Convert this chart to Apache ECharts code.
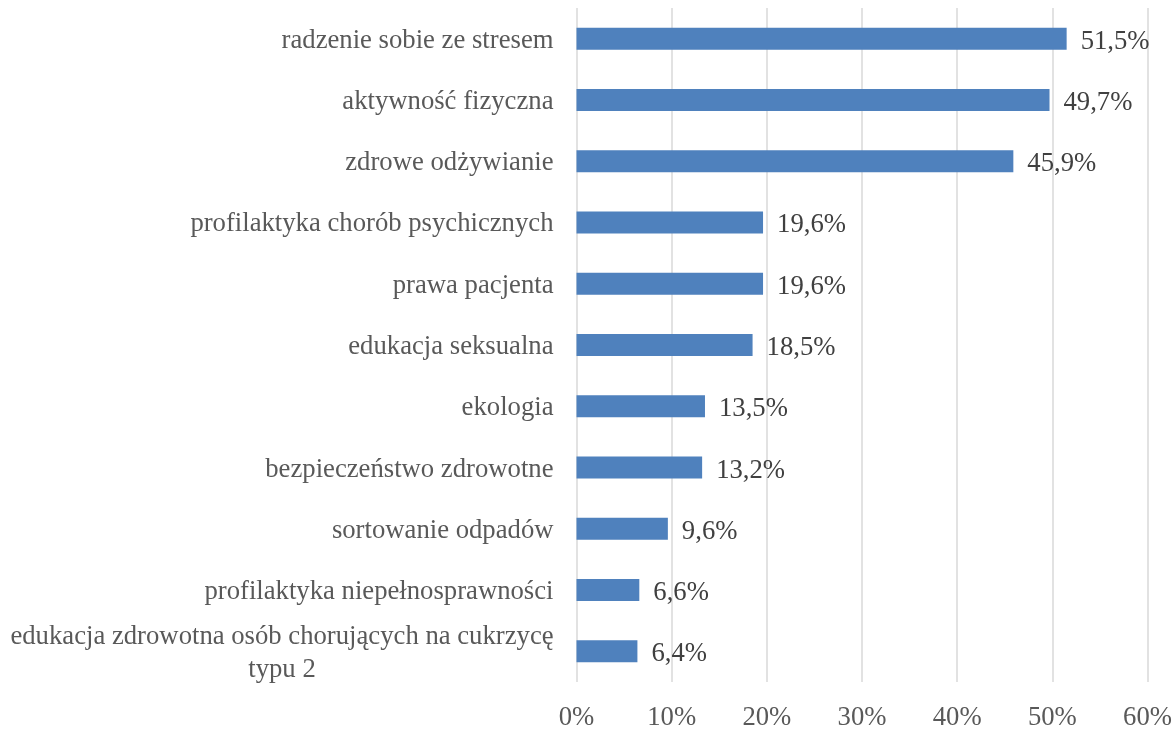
<!DOCTYPE html>
<html>
<head>
<meta charset="utf-8">
<script src="https://cdn.jsdelivr.net/npm/echarts@6/dist/echarts.min.js"></script>
<style>
  html, body { margin: 0; padding: 0; background: #fff; }
</style>
</head>
<body>
<div id="chartDom" style="width: 1175px; height: 731px;"></div>
<script>
const categories = [
  'radzenie sobie ze stresem',
  'aktywność fizyczna',
  'zdrowe odżywianie',
  'profilaktyka chorób psychicznych',
  'prawa pacjenta',
  'edukacja seksualna',
  'ekologia',
  'bezpieczeństwo zdrowotne',
  'sortowanie odpadów',
  'profilaktyka niepełnosprawności',
  'edukacja zdrowotna osób chorujących na cukrzycę\ntypu 2'
];
const percents = [51.5, 49.7, 45.9, 19.6, 19.6, 18.5, 13.5, 13.2, 9.6, 6.6, 6.4];
const tickValues = [0, 10, 20, 30, 40, 50, 60];

const fontFam = '"Liberation Serif", "Times New Roman", serif';
const fs = 26.7;
const myChart = echarts.init(document.getElementById('chartDom'));

const option = {
  animation: false,
  textStyle: { fontFamily: fontFam },
  grid: {
    left: 576.5,
    right: 26,
    top: 8,
    bottom: 48,
    containLabel: false
  },
  xAxis: {
    type: 'value',
    min: tickValues[0],
    max: tickValues[tickValues.length - 1],
    interval: 10,
    axisLine: { show: false },
    axisTick: { show: false },
    splitLine: { lineStyle: { color: '#d9d9d9', width: 1.5 } },
    axisLabel: {
      formatter: '{value}%',
      color: '#595959',
      fontSize: fs,
      fontFamily: fontFam,
      margin: 22
    }
  },
  yAxis: {
    type: 'category',
    inverse: true,
    data: categories,
    axisLine: { show: false },
    axisTick: { show: false },
    axisLabel: {
      color: '#595959',
      fontSize: fs,
      fontFamily: fontFam,
      margin: 23,
      lineHeight: 33,
      padding: [4, 0, 0, 0],
      formatter: function (v) {
        if (v.indexOf('\n') < 0) return v;
        return v.split('\n').map(s => '{c|' + s + '}').join('\n');
      },
      rich: {
        c: {
          width: 543,
          align: 'center',
          color: '#595959',
          fontSize: fs,
          fontFamily: fontFam,
          lineHeight: 33
        }
      }
    }
  },
  series: [
    {
      type: 'bar',
      data: percents,
      barWidth: 22,
      itemStyle: { color: '#4f81bd' },
      label: {
        show: true,
        position: 'right',
        distance: 14,
        offset: [0, 3],
        color: '#404040',
        fontSize: fs,
        fontFamily: fontFam,
        formatter: p => p.value.toFixed(1).replace('.', ',') + '%'
      }
    }
  ]
};

myChart.setOption(option);
</script>
</body>
</html>
